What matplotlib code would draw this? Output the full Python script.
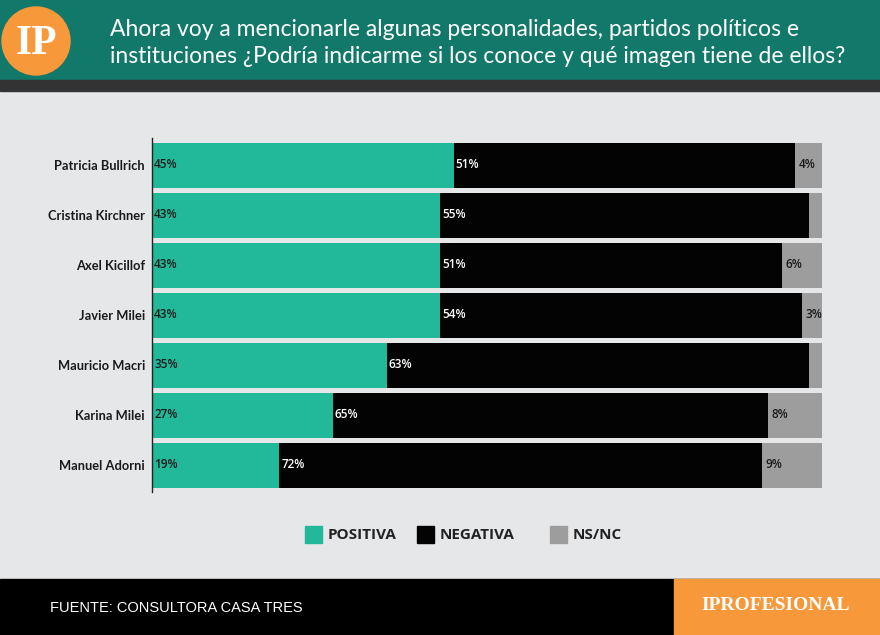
import matplotlib.pyplot as plt
from matplotlib.patches import Rectangle, Circle

names = ['Patricia Bullrich', 'Cristina Kirchner', 'Axel Kicillof', 'Javier Milei',
         'Mauricio Macri', 'Karina Milei', 'Manuel Adorni']
positiva = [45, 43, 43, 43, 35, 27, 19]
negativa = [51, 55, 51, 54, 63, 65, 72]
nsnc = [4, 2, 6, 3, 2, 8, 9]

title = ('Ahora voy a mencionarle algunas personalidades, partidos políticos e\n'
         'instituciones ¿Podría indicarme si los conoce y qué imagen tiene de ellos?')
source = 'FUENTE: CONSULTORA CASA TRES'

GREEN = '#22b99a'
BLACK = '#030303'
GRAY = '#9d9d9d'
BG = '#e6e7e9'
TEAL = '#12786a'
ORANGE = '#f7993a'

W, H = 880, 635
fig = plt.figure(figsize=(W / 100, H / 100), dpi=100)
fig.patch.set_facecolor(BG)

# decoration layer in pixel coordinates
bg = fig.add_axes([0, 0, 1, 1], zorder=0)
bg.set_xlim(0, W)
bg.set_ylim(H, 0)
bg.axis('off')
bg.add_patch(Rectangle((0, 0), W, 80, color=TEAL))
bg.add_patch(Rectangle((0, 80), W, 11, color='#333333'))
bg.add_patch(Rectangle((0, 579), W, 56, color='black'))
bg.add_patch(Rectangle((674, 579), 206, 56, color=ORANGE))
bg.add_patch(Circle((36, 41), 34, color=ORANGE))
bg.text(36, 44, 'IP', color='white', fontsize=30, fontweight='bold',
        family='Liberation Serif', ha='center', va='center')
bg.text(110, 43, title, color='white', fontsize=16.5, family='Lato',
        ha='left', va='center', linespacing=1.32)
bg.text(50, 608, source, color='white', fontsize=10.5, family='Liberation Sans',
        ha='left', va='center')
bg.text(776, 606, 'IPROFESIONAL', color='white', fontsize=14, fontweight='bold',
        family='Liberation Serif', ha='center', va='center')

# legend
leg_items = [('POSITIVA', GREEN, 305), ('NEGATIVA', BLACK, 417), ('NS/NC', GRAY, 550)]
for lab, col, x0 in leg_items:
    bg.add_patch(Rectangle((x0, 526), 17, 17, color=col))
    bg.text(x0 + 23, 535, lab, color='#222222', fontsize=11, fontweight='bold',
            family='Open Sans', ha='left', va='center')

# chart
ax = fig.add_axes([152 / W, 1 - 492 / H, 670 / W, 354 / H], zorder=1)
ax.patch.set_alpha(0)
y = list(range(len(names)))
left_ns = [p + n for p, n in zip(positiva, negativa)]
ax.barh(y, positiva, height=0.9, color=GREEN)
ax.barh(y, negativa, left=positiva, height=0.9, color=BLACK)
ax.barh(y, nsnc, left=left_ns, height=0.9, color=GRAY)

lab_kw = dict(fontsize=8.5, fontweight='semibold', family='Open Sans', va='center', ha='left')
for i in y:
    ax.text(0.3, i, f'{positiva[i]}%', color='#1a1a1a', **lab_kw)
    ax.text(positiva[i] + 0.3, i, f'{negativa[i]}%', color='white', **lab_kw)
    if nsnc[i] >= 3:
        ax.text(left_ns[i] + 0.5, i, f'{nsnc[i]}%', color='#1a1a1a', **lab_kw)

ax.set_xlim(0, 100)
ax.set_ylim(6.54, -0.54)
ax.set_yticks(y)
ax.set_yticklabels(names, fontsize=9.3, fontweight='bold', family='Lato', color='#1a1a1a')
ax.tick_params(axis='y', length=0, pad=5)
ax.set_xticks([])
for s in ['top', 'right', 'bottom']:
    ax.spines[s].set_visible(False)
ax.spines['left'].set_color('#222222')
ax.spines['left'].set_linewidth(1)

fig.savefig('out.png', dpi=100, facecolor=BG)
